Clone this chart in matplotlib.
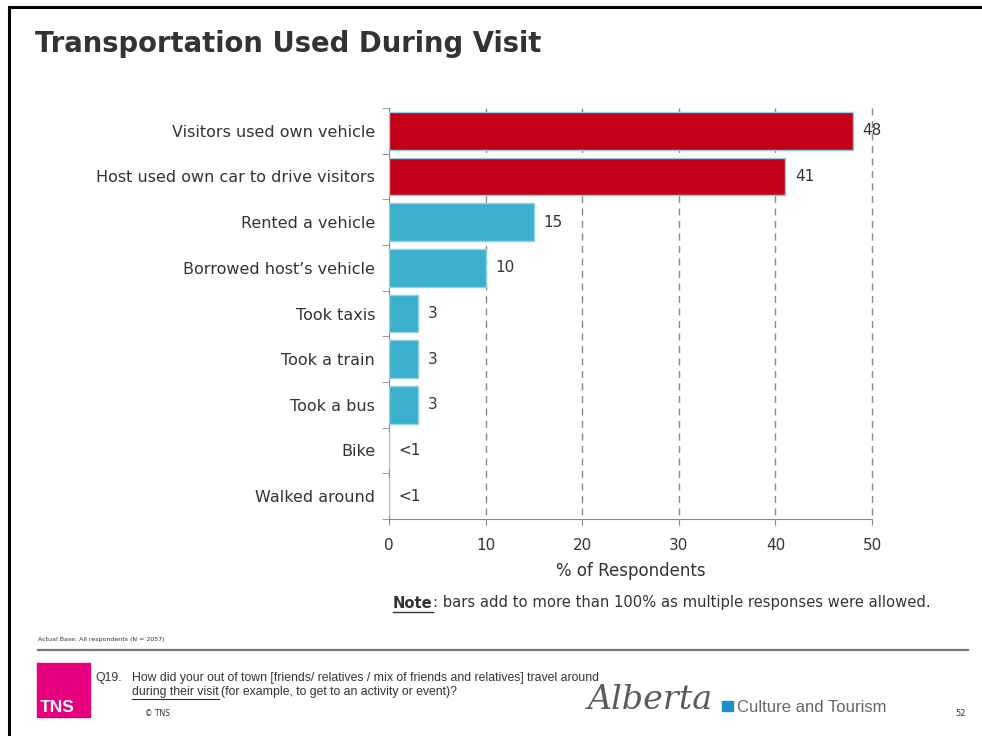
import matplotlib.pyplot as plt
import numpy as np
from matplotlib.patches import Rectangle

# datos de la grafica
categorias = ["Visitors used own vehicle", "Host used own car to drive visitors",
              "Rented a vehicle", "Borrowed host\u2019s vehicle", "Took taxis",
              "Took a train", "Took a bus", "Bike", "Walked around"]
valores = [48, 41, 15, 10, 3, 3, 3, 0, 0]
etiquetas = ["48", "41", "15", "10", "3", "3", "3", "<1", "<1"]
colores = ["#C20018", "#C20018", "#3BB0CD", "#3BB0CD", "#3BB0CD",
           "#3BB0CD", "#3BB0CD", "#3BB0CD", "#3BB0CD"]
xticks = [0, 10, 20, 30, 40, 50]

gris = "#333333"
plt.rcParams['font.family'] = ['DejaVu Sans']

fig = plt.figure(figsize=(9.82, 7.36), dpi=100)

# marco de la diapositiva
fig.add_artist(plt.Line2D([9 / 982, 1], [1 - 7 / 736, 1 - 7 / 736], color="black", lw=2.2))
fig.add_artist(plt.Line2D([9 / 982, 9 / 982], [0, 1 - 7 / 736], color="black", lw=2.2))

fig.text(35 / 982, 1 - 44 / 736, "Transportation Used During Visit", fontsize=19.8,
         fontweight="bold", color=gris, va="center", ha="left")

ax = fig.add_axes([389 / 982, 1 - 519 / 736, 483 / 982, 411 / 736])
y = np.arange(len(categorias))
ax.barh(y, valores, height=0.83, color=colores, edgecolor="#8FD0E2", linewidth=1, zorder=3)
for i in range(len(valores)):
    ax.annotate(etiquetas[i], (valores[i], y[i]), xytext=(7, 0), textcoords="offset points",
                va="center", ha="left", fontsize=11, color=gris, zorder=4)

ax.set_xlim(0, 50)
ax.set_ylim(len(categorias) - 0.5, -0.5)
ax.set_xticks(xticks)
ax.set_xticklabels([str(t) for t in xticks], fontsize=11, color=gris)
ax.set_yticks(y)
ax.set_yticklabels(categorias, fontsize=11.5, color=gris)
ax.tick_params(axis="y", which="major", length=0, pad=10)
ax.set_yticks(np.arange(-0.5, len(categorias), 1), minor=True)
ax.tick_params(axis="y", which="minor", length=5, color="#888888")
ax.tick_params(axis="x", length=4, color="#888888", pad=10)
# lineas guia punteadas
ax.vlines(xticks[1:], -0.5, len(categorias) - 0.5, linestyles=(0, (5, 4)), colors="#888888",
          linewidth=1, zorder=0, clip_on=False)
for lado in ["top", "right"]:
    ax.spines[lado].set_visible(False)
ax.spines["left"].set_color("#888888")
ax.spines["bottom"].set_color("#888888")
ax.set_xlabel("% of Respondents", fontsize=12, color=gris, labelpad=6)

# nota al pie de la grafica
nota = fig.text(393 / 982, 1 - 603 / 736, "Note", fontsize=10.6, fontweight="bold", color=gris,
                va="center", ha="left")
fig.canvas.draw()
caja = nota.get_window_extent()
x_fin = caja.x1 / fig.bbox.width
fig.add_artist(plt.Line2D([393 / 982, x_fin], [1 - 612 / 736, 1 - 612 / 736], color=gris, lw=1))
fig.text(x_fin, 1 - 603 / 736, ": bars add to more than 100% as multiple responses were allowed.",
         fontsize=10.6, color=gris, va="center", ha="left")

# pie de pagina
fig.text(38 / 982, 1 - 640 / 736, "Actual Base: All respondents (N = 2057)", fontsize=4.5,
         color=gris, va="center", ha="left")
fig.add_artist(plt.Line2D([38 / 982, 968 / 982], [1 - 650 / 736, 1 - 650 / 736], color="#777777", lw=1.6))
fig.add_artist(Rectangle((37 / 982, 1 - 717 / 736), 53 / 982, 54 / 736, color="#E6007E",
                         transform=fig.transFigure))
fig.text(40 / 982, 1 - 707 / 736, "TNS", fontsize=12.5, fontweight="bold", color="white",
         va="center", ha="left", family="Liberation Sans")
fig.text(95 / 982, 1 - 678 / 736, "Q19.", fontsize=8.8, color=gris, va="center", ha="left",
         family="Liberation Sans")
fig.text(132 / 982, 1 - 678 / 736,
         "How did your out of town [friends/ relatives / mix of friends and relatives] travel around",
         fontsize=8.8, color=gris, va="center", ha="left", family="Liberation Sans")
visita = fig.text(132 / 982, 1 - 692 / 736, "during their visit", fontsize=8.8, color=gris,
                  va="center", ha="left", family="Liberation Sans")
fig.canvas.draw()
x_visita = visita.get_window_extent().x1 / fig.bbox.width
fig.add_artist(plt.Line2D([132 / 982, x_visita], [1 - 699 / 736, 1 - 699 / 736], color=gris, lw=0.8))
fig.text(x_visita + 2 / 982, 1 - 692 / 736, "(for example, to get to an activity or event)?",
         fontsize=8.8, color=gris, va="center", ha="left", family="Liberation Sans")
fig.text(145 / 982, 1 - 714 / 736, "\u00a9 TNS", fontsize=5.5, color=gris, va="center", ha="left")

fig.text(588 / 982, 1 - 700 / 736, "Alberta", fontsize=24, style="italic", color="#5a5a5a",
         va="center", ha="left", family="DejaVu Serif")
fig.add_artist(Rectangle((722 / 982, 1 - 711 / 736), 11 / 982, 10 / 736, color="#1E90C8",
                         transform=fig.transFigure))
fig.text(737 / 982, 1 - 707 / 736, "Culture and Tourism", fontsize=12, color="#666666",
         va="center", ha="left", family="Liberation Sans")
fig.text(955 / 982, 1 - 713 / 736, "52", fontsize=6, color=gris, va="center", ha="left")

fig.savefig("out.png", dpi=100)
